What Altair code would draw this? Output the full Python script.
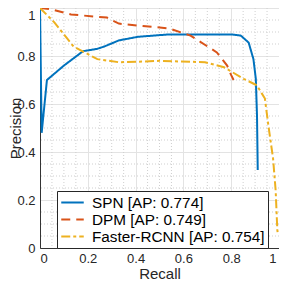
import altair as alt
import pandas as pd

FONT = "Liberation Sans"

series_names = ["SPN [AP: 0.774]", "DPM [AP: 0.749]", "Faster-RCNN [AP: 0.754]"]
colors = ["#0072BD", "#D95319", "#EDB120"]
dashes = [[1, 0], [9, 6], [9, 3, 3, 3]]

spn_recall = [0.0, 0.007, 0.029, 0.10, 0.18, 0.24, 0.27, 0.33, 0.41, 0.54, 0.66, 0.80, 0.84, 0.873, 0.893, 0.903, 0.908, 0.911]
spn_precision = [1.0, 0.48, 0.70, 0.76, 0.82, 0.83, 0.84, 0.865, 0.88, 0.89, 0.89, 0.89, 0.885, 0.856, 0.787, 0.705, 0.55, 0.325]

dpm_recall = [0.0, 0.046, 0.13, 0.28, 0.33, 0.43, 0.54, 0.63, 0.74, 0.783, 0.80, 0.81]
dpm_precision = [1.0, 0.995, 0.973, 0.96, 0.935, 0.925, 0.915, 0.885, 0.815, 0.76, 0.72, 0.70]

frcnn_recall = [0.0, 0.06, 0.14, 0.24, 0.33, 0.44, 0.50, 0.69, 0.77, 0.852, 0.907, 0.941, 0.955, 0.975, 0.986, 0.993, 0.995]
frcnn_precision = [1.0, 0.94, 0.84, 0.787, 0.774, 0.777, 0.78, 0.774, 0.753, 0.705, 0.678, 0.623, 0.514, 0.375, 0.24, 0.074, 0.06]

major_ticks = [0, 0.2, 0.4, 0.6, 0.8, 1.0]
minor_ticks = [0.05, 0.1, 0.15, 0.25, 0.3, 0.35, 0.45, 0.5, 0.55, 0.65, 0.7, 0.75, 0.85, 0.9, 0.95]

rows = []
for name, rs, ps in zip(series_names,
                        [spn_recall, dpm_recall, frcnn_recall],
                        [spn_precision, dpm_precision, frcnn_precision]):
    for i, (r, p) in enumerate(zip(rs, ps)):
        rows.append({"series": name, "recall": r, "precision": p, "idx": i})
df = pd.DataFrame(rows)
minor_df = pd.DataFrame({"v": minor_ticks})

xscale = alt.Scale(domain=[0, 1], nice=False, zero=False)
yscale = alt.Scale(domain=[0, 1], nice=False, zero=False)

x_axis = alt.Axis(values=major_ticks, format="~g", title="Recall", grid=True,
                  ticks=False, labelPadding=4, labelFontSize=13, titleFontSize=15,
                  titleFontWeight="normal", titleBaseline="alphabetic", titleY=30,
                  labelOffset={"condition": {"test": "datum.value == 1", "value": -3}, "value": 0})
y_axis = alt.Axis(values=major_ticks, format="~g", title="Precision", grid=True,
                  ticks=False, labelPadding=5, labelFontSize=13, titleFontSize=15,
                  titleFontWeight="normal", titleBaseline="alphabetic", titleX=-20,
                  titleAngle=-90,
                  labelOffset={"condition": {"test": "datum.value == 1", "value": 7}, "value": 0})

minor_x = alt.Chart(minor_df).mark_rule(color="#cfcfcf", strokeDash=[1, 2], strokeWidth=1).encode(
    x=alt.X("v:Q", scale=xscale, axis=x_axis)
)
minor_y = alt.Chart(minor_df).mark_rule(color="#cfcfcf", strokeDash=[1, 2], strokeWidth=1).encode(
    y=alt.Y("v:Q", scale=yscale, axis=y_axis)
)

lines = alt.Chart(df).mark_line(strokeWidth=2, clip=True).encode(
    x=alt.X("recall:Q", scale=xscale, axis=x_axis),
    y=alt.Y("precision:Q", scale=yscale, axis=y_axis),
    color=alt.Color("series:N", scale=alt.Scale(domain=series_names, range=colors),
                    sort=series_names, title=None),
    strokeDash=alt.StrokeDash("series:N", scale=alt.Scale(domain=series_names, range=dashes),
                              sort=series_names, title=None),
    order="idx:Q",
)

chart = alt.layer(minor_x, minor_y, lines).properties(
    width=239, height=240,
    autosize=alt.AutoSizeParams(type="none"),
    padding={"left": 32, "top": 0, "right": 0, "bottom": 34},
).configure_view(
    stroke="#333333", strokeWidth=1
).configure_axis(
    labelFont=FONT, titleFont=FONT, labelColor="#262626", titleColor="#262626",
    domainColor="#333333", gridColor="#e3e3e3", gridWidth=1,
).configure_legend(
    orient="none", legendX=17, legendY=183,
    labelFont=FONT, labelFontSize=15.3, labelColor="#000000",
    symbolType="M-1.5,0H1.5", symbolSize=225, symbolStrokeWidth=2,
    symbolOffset=4, labelOffset=11, padding=3, rowPadding=0,
    strokeColor="#262626", fillColor="#ffffff", cornerRadius=0,
    labelLimit=400,
)

chart.save("out.html", embed_options={"renderer": "svg", "actions": False})
